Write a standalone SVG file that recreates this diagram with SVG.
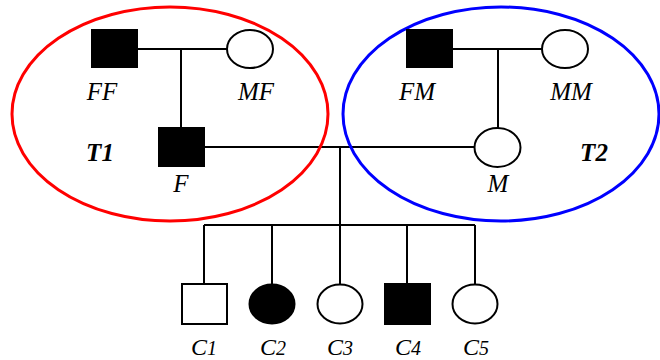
<svg xmlns="http://www.w3.org/2000/svg" width="660" height="360" viewBox="0 0 660 360">
  <style>
    .line { stroke: #000; stroke-width: 2; fill: none; }
    .open { fill: #fff; stroke: #000; stroke-width: 2; }
    .filled { fill: #000; stroke: #000; stroke-width: 2; }
    .lbl { font-family: "Liberation Serif", "Times New Roman", serif; font-style: italic; font-size: 25px; fill: #000; text-anchor: middle; }
    .kid { font-size: 24px; }
    .tag { font-family: "Liberation Serif", "Times New Roman", serif; font-style: italic; font-weight: bold; font-size: 25px; fill: #000; text-anchor: middle; }
    .sub { font-size: 20px; }
  </style>
  <rect width="660" height="360" fill="#fff"/>

  <!-- pedigree lines -->
  <g id="connectors">
    <path class="line" d="M137 49 H227 M181 49 V127"/>
    <path class="line" d="M452 49 H542 M498 49 V128"/>
    <path class="line" d="M205 147 H474 M340 147 V225"/>
    <path class="line" d="M204 225 H475 M204 225 V284 M272 225 V284 M340 225 V284 M407 225 V284 M475 225 V284"/>
  </g>

  <!-- trio groupings -->
  <g id="T1">
    <ellipse cx="170" cy="114" rx="158" ry="107" fill="none" stroke="#f00" stroke-width="3"/>
    <text class="tag" x="100" y="161">T1</text>
  </g>
  <g id="T2">
    <ellipse cx="501" cy="114" rx="158" ry="107" fill="none" stroke="#00f" stroke-width="3"/>
    <text class="tag" x="594" y="161">T2</text>
  </g>

  <g id="FF">
    <rect class="filled" x="92" y="30" width="45" height="37"/>
    <text class="lbl" x="102" y="100">FF</text>
  </g>
  <g id="MF">
    <ellipse class="open" cx="250" cy="49" rx="23" ry="19"/>
    <text class="lbl" x="256" y="100">MF</text>
  </g>
  <g id="F">
    <rect class="filled" x="159" y="128" width="45" height="38"/>
    <text class="lbl" x="181" y="192">F</text>
  </g>
  <g id="FM">
    <rect class="filled" x="407" y="30" width="45" height="37"/>
    <text class="lbl" x="417" y="100">FM</text>
  </g>
  <g id="MM">
    <ellipse class="open" cx="565" cy="49" rx="23" ry="19"/>
    <text class="lbl" x="571" y="100">MM</text>
  </g>
  <g id="M">
    <ellipse class="open" cx="497.5" cy="147.5" rx="23" ry="19.5"/>
    <text class="lbl" x="498" y="192">M</text>
  </g>

  <g id="C1">
    <rect class="open" x="182" y="284" width="45" height="40"/>
    <text class="lbl kid" x="204" y="355">C<tspan class="sub">1</tspan></text>
  </g>
  <g id="C2">
    <ellipse class="filled" cx="272" cy="304" rx="22.5" ry="19.5"/>
    <text class="lbl kid" x="273" y="355">C<tspan class="sub">2</tspan></text>
  </g>
  <g id="C3">
    <ellipse class="open" cx="340" cy="304" rx="22.5" ry="19.5"/>
    <text class="lbl kid" x="340" y="355">C<tspan class="sub">3</tspan></text>
  </g>
  <g id="C4">
    <rect class="filled" x="385" y="284" width="45" height="40"/>
    <text class="lbl kid" x="408" y="355">C<tspan class="sub">4</tspan></text>
  </g>
  <g id="C5">
    <ellipse class="open" cx="475" cy="304" rx="22.5" ry="19.5"/>
    <text class="lbl kid" x="476" y="355">C<tspan class="sub">5</tspan></text>
  </g>
</svg>
